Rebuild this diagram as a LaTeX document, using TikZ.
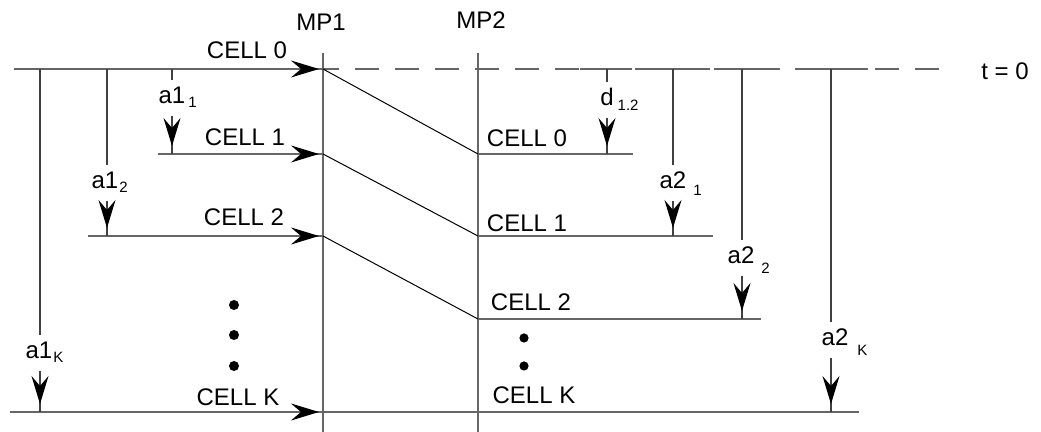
\documentclass[tikz,border=0pt]{standalone}
\usepackage{fontspec}
\setmainfont{Liberation Sans}
\usetikzlibrary{arrows.meta,decorations.markings}

% label with a lowered, smaller index that takes no width
\newcommand\sublab[4]{#1\smash{\rlap{\kern#2\raisebox{#3}{\fontsize{7.5}{9}\selectfont #4}}}}

\tikzset{
  x=0.5pt, y=-0.5pt,
  every node/.style={font=\fontsize{12}{14}\selectfont},
  rail/.style={draw=black!60, line width=0.75pt},
  drop/.style={draw=black!75, line width=0.6pt},
  slant/.style={draw=black, line width=0.5pt},
  tipat/.style={postaction={decorate},
    decoration={markings, mark=at position #1 with
      {\arrow[black]{Stealth[length=14pt,width=8.5pt,inset=5pt]}}}},
  txt/.style={inner sep=0pt},
  albl/.style={inner xsep=1pt, inner ysep=3pt},
  dotmark/.style={fill=black},
}

\begin{document}
\begin{tikzpicture}
\useasboundingbox (0,0) rectangle (1041,432);

% the two measurement points
\coordinate (mp1t) at (323,53); \coordinate (mp1b) at (323,432);
\coordinate (mp2t) at (478,53); \coordinate (mp2b) at (478,432);
\draw[rail] (mp1t) -- (mp1b);
\draw[rail] (mp2t) -- (mp2b);
\node[txt] (mp1) at (321,22) {MP1};
\node[txt] (mp2) at (481,20) {MP2};

% reference instant t = 0
\coordinate (s0)  at (14,69);
\coordinate (p10) at (323,69);
\coordinate (e0)  at (948,69);
\draw[rail, dash pattern=on 12pt off 8pt, dash phase=4pt] (p10) -- (e0);
\node[txt] (t0) at (1005,71) {t = 0};

% arrivals at MP1
\coordinate (s1)  at (158,154); \coordinate (p11) at (323,154);
\coordinate (s2)  at (88,236);  \coordinate (p12) at (323,236);
\coordinate (sK)  at (10,412);  \coordinate (p1K) at (323,412);
\draw[rail, tipat=-2pt] (s0) -- (p10);
\draw[rail, tipat=-2pt] (s1) -- (p11);
\draw[rail, tipat=-2pt] (s2) -- (p12);
\draw[rail, tipat=-2pt] (sK) -- (p1K);
\node[txt] (c0a) at (247,50)  {CELL 0};
\node[txt] (c1a) at (245,137) {CELL 1};
\node[txt] (c2a) at (244,217) {CELL 2};
\node[txt] (cKa) at (238,397) {CELL K};

% arrivals at MP2
\coordinate (p20) at (478,154); \coordinate (e20) at (633,154);
\coordinate (p21) at (478,236); \coordinate (e21) at (713,236);
\coordinate (p22) at (478,319); \coordinate (e22) at (761,319);
\coordinate (p2K) at (478,412); \coordinate (e2K) at (859,412);
\draw[rail] (p20) -- (e20);
\draw[rail] (p21) -- (e21);
\draw[rail] (p22) -- (e22);
\draw[rail] (p1K) -- (p2K) -- (e2K);
\node[txt] (c0b) at (527,138) {CELL 0};
\node[txt] (c1b) at (527,223) {CELL 1};
\node[txt] (c2b) at (531,302) {CELL 2};
\node[txt] (cKb) at (534,395) {CELL K};

% transfer from MP1 to MP2
\draw[slant] (p10) -- (p20);
\draw[slant] (p11) -- (p21);
\draw[slant] (p12) -- (p22);

% continuation dots
\fill[dotmark] (234,305) circle (2.5pt);
\fill[dotmark] (234,335) circle (2.5pt);
\fill[dotmark] (234,366) circle (2.5pt);
\fill[dotmark] (524,338) circle (2.3pt);
\fill[dotmark] (524,366) circle (2.3pt);

% solid stubs where the MP2 delays leave the t = 0 line
\coordinate (kd0) at (580,69);  \coordinate (kd1) at (632,69);
\coordinate (ka0) at (645,69);  \coordinate (ka1) at (710,69);
\coordinate (kb0) at (714,69);  \coordinate (kb1) at (780,69);
\coordinate (kc0) at (803,69);  \coordinate (kc1) at (868,69);
\draw[rail] (kd0) -- (kd1);
\draw[rail] (ka0) -- (ka1);
\draw[rail] (kb0) -- (kb1);
\draw[rail] (kc0) -- (kc1);

% inter-arrival times at MP1
\coordinate (u11) at (172,69);  \coordinate (v11) at (172,154);
\coordinate (u12) at (107,69);  \coordinate (v12) at (107,236);
\coordinate (u1K) at (40,69);   \coordinate (v1K) at (40,412);
\node[albl] (l11) at (172,95)  {\sublab{a1}{1.5pt}{-2.2pt}{1}};
\node[albl] (l12) at (105,180) {\sublab{a1}{0.5pt}{-2.4pt}{2}};
\node[albl] (l1K) at (39,350)  {\sublab{a1}{0.5pt}{-2.2pt}{K}};
\draw[drop] (u11) -- (l11.north);
\draw[drop, shorten <=3pt, tipat=-4pt] (l11.south) -- (v11);
\draw[drop] (u12) -- (l12.north -| u12);
\draw[drop, shorten <=3pt, tipat=-4pt] (l12.south -| u12) -- (v12);
\draw[drop] (u1K) -- (l1K.north -| u1K);
\draw[drop, shorten <=3pt, tipat=-4pt] (l1K.south -| u1K) -- (v1K);

% delay and inter-arrival times at MP2
\coordinate (ud)  at (607,69);  \coordinate (vd)  at (607,154);
\coordinate (u21) at (673,69);  \coordinate (v21) at (673,236);
\coordinate (u22) at (742,69);  \coordinate (v22) at (742,319);
\coordinate (u2K) at (831,69);  \coordinate (v2K) at (831,412);
\node[albl] (ld)  at (607,97)  {\sublab{d}{2pt}{-2.4pt}{1.2}};
\node[albl] (l21) at (673,180) {\sublab{a2}{3.5pt}{-3.7pt}{1}};
\node[albl] (l22) at (741,255) {\sublab{a2}{3.5pt}{-5.2pt}{2}};
\node[albl] (l2K) at (835,337) {\sublab{a2}{4.5pt}{-5.2pt}{K}};
\draw[drop] (ud) -- (ld.north);
\draw[drop, shorten <=3pt, tipat=-4pt] (ld.south) -- (vd);
\draw[drop] (u21) -- (l21.north -| u21);
\draw[drop, shorten <=3pt, tipat=-4pt] (l21.south -| u21) -- (v21);
\draw[drop] (u22) -- (l22.north -| u22);
\draw[drop, shorten <=3pt, tipat=-4pt] (l22.south -| u22) -- (v22);
\draw[drop] (u2K) -- (l2K.north -| u2K);
\draw[drop, shorten <=3pt, tipat=-4pt] (l2K.south -| u2K) -- (v2K);
\end{tikzpicture}
\end{document}
